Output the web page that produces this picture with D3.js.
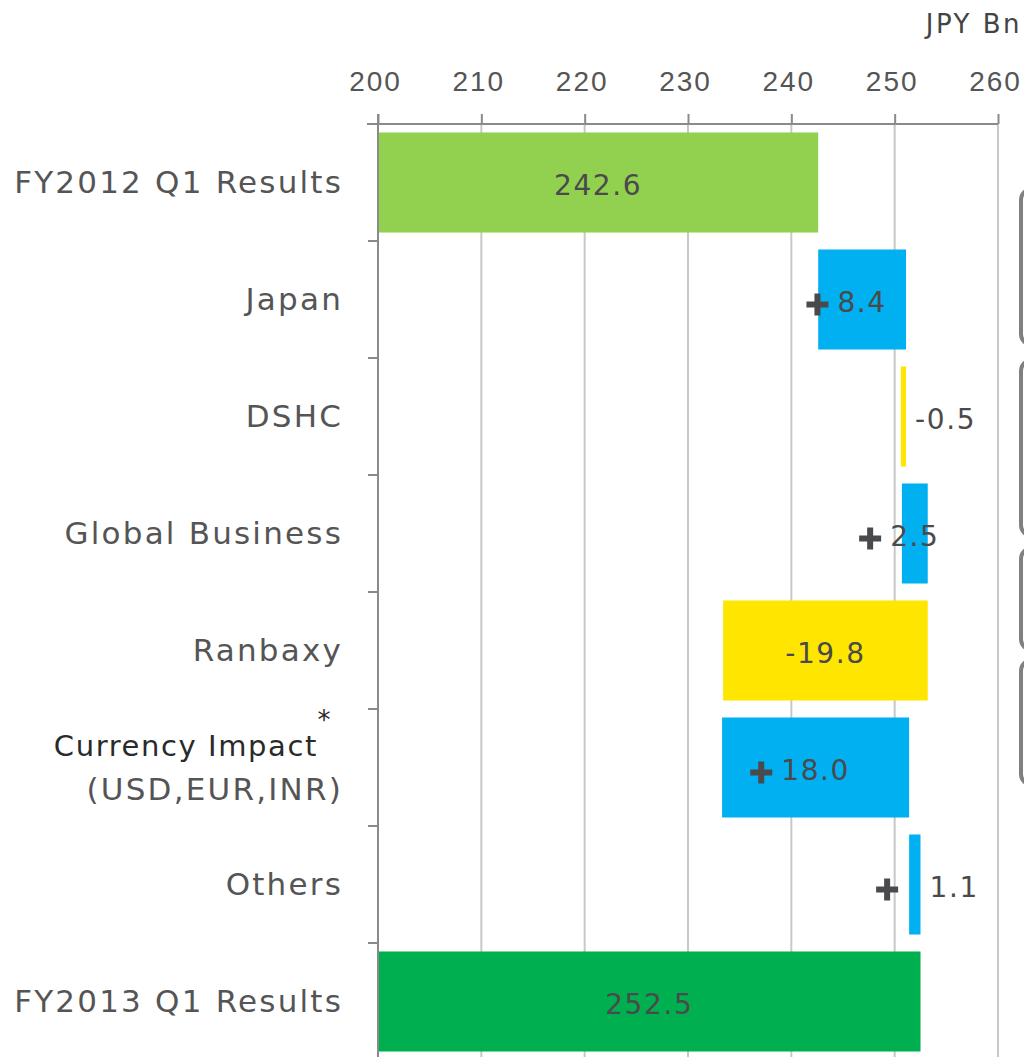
<!DOCTYPE html>
<html>
<head>
<meta charset="utf-8">
<script src="https://cdn.jsdelivr.net/npm/d3@7"></script>
<style>
body { margin: 0; background: #fff; }
svg { display: block; font-family: "DejaVu Sans", sans-serif; }
</style>
</head>
<body>
<script>
// data
var categories = ["FY2012 Q1 Results", "Japan", "DSHC", "Global Business", "Ranbaxy", "Currency Impact", "Others", "FY2013 Q1 Results"];
var barStart = [200, 242.6, 251.1, 250.7, 253.2, 233.3, 251.4, 200];
var barEnd = [242.6, 251.1, 250.6, 253.2, 233.4, 251.4, 252.5, 252.5];
var valueLabels = ["242.6", "8.4", "-0.5", "2.5", "-19.8", "18.0", "1.1", "252.5"];
var barKind = ["start", "up", "down", "up", "down", "up", "up", "end"];
var xTicks = [200, 210, 220, 230, 240, 250, 260];

var color = {start: "#92d050", up: "#00b0f0", down: "#ffe600", end: "#00b050"};

var W = 1024, H = 1057;
var margin = {top: 124, left: 378, right: 26, bottom: -3};

var svg = d3.select("body").append("svg")
	.attr("width", W)
	.attr("height", H);

var x = d3.scaleLinear()
	.domain([200, 260])
	.range([margin.left, W - margin.right]);

var y = d3.scaleBand()
	.domain(categories)
	.range([margin.top, H - margin.bottom])
	.paddingInner(0.145)
	.paddingOuter(0.0725);

// cropped boxes on right edge
[[189, 345], [360, 536], [548, 650], [660, 785]].forEach(function(b) {
	svg.append("rect")
		.attr("x", 1021).attr("y", b[0])
		.attr("width", 60).attr("height", b[1] - b[0])
		.attr("rx", 11)
		.attr("fill", "#fff")
		.attr("stroke", "#808080")
		.attr("stroke-width", 4);
});

// gridlines
svg.append("g").selectAll("line")
	.data(xTicks.slice(1))
	.enter().append("line")
	.attr("x1", function(d) { return x(d); })
	.attr("x2", function(d) { return x(d); })
	.attr("y1", margin.top)
	.attr("y2", H)
	.attr("stroke", "#c8c8c8")
	.attr("stroke-width", 2);

// bars
var rows = categories.map(function(c, i) {
	return {cat: c, s: barStart[i], e: barEnd[i], label: valueLabels[i], kind: barKind[i]};
});

svg.append("g").selectAll("rect")
	.data(rows)
	.enter().append("rect")
	.attr("x", function(d) { return x(Math.min(d.s, d.e)); })
	.attr("y", function(d) { return y(d.cat); })
	.attr("width", function(d) { return Math.abs(x(d.e) - x(d.s)); })
	.attr("height", y.bandwidth())
	.attr("fill", function(d) { return color[d.kind]; });

// top axis
var xAxis = d3.axisTop(x)
	.tickValues(xTicks)
	.tickSize(10)
	.tickSizeOuter(0)
	.tickPadding(23);

var gx = svg.append("g")
	.attr("transform", "translate(0," + margin.top + ")")
	.call(xAxis);
gx.select(".domain").remove();
gx.selectAll(".tick line").attr("stroke", "#8a8a8a").attr("stroke-width", 2);
gx.selectAll(".tick text")
	.attr("fill", "#555")
	.style("font-size", "28px")
	.style("letter-spacing", "2px")
	.attr("dx", "-3");
gx.append("line")
	.attr("x1", margin.left - 11).attr("x2", x(260))
	.attr("y1", 0).attr("y2", 0)
	.attr("stroke", "#8a8a8a").attr("stroke-width", 2);

svg.append("text")
	.attr("x", 1022).attr("y", 33)
	.attr("text-anchor", "end")
	.attr("fill", "#444")
	.style("font-size", "26px")
	.style("letter-spacing", "2.5px")
	.text("JPY Bn");

// left axis
svg.append("line")
	.attr("x1", margin.left).attr("x2", margin.left)
	.attr("y1", margin.top - 10).attr("y2", H)
	.attr("stroke", "#8a8a8a").attr("stroke-width", 2);

svg.append("g").selectAll("line")
	.data(categories.slice(1))
	.enter().append("line")
	.attr("x1", margin.left - 10).attr("x2", margin.left)
	.attr("y1", function(d) { return y(d) - y.step() * y.paddingInner() / 2; })
	.attr("y2", function(d) { return y(d) - y.step() * y.paddingInner() / 2; })
	.attr("stroke", "#8a8a8a").attr("stroke-width", 2);

// category labels
var catG = svg.append("g")
	.attr("fill", "#555")
	.style("font-size", "31px")
	.style("letter-spacing", "2.2px");

rows.forEach(function(d) {
	var cy = y(d.cat) + y.bandwidth() / 2;
	if (d.cat == "Currency Impact") {
		catG.append("text")
			.attr("x", 318).attr("y", cy - 22).attr("dy", ".35em")
			.attr("text-anchor", "end")
			.attr("fill", "#2a2a2a")
			.style("font-size", "29px")
			.style("letter-spacing", "1.6px")
			.text("Currency Impact");
		catG.append("text")
			.attr("x", 325).attr("y", cy - 48).attr("dy", ".35em")
			.attr("text-anchor", "middle")
			.attr("fill", "#2a2a2a")
			.style("font-size", "26px")
			.text("*");
		catG.append("text")
			.attr("x", 343).attr("y", cy + 22).attr("dy", ".35em")
			.attr("text-anchor", "end")
			.text("(USD,EUR,INR)");
	} else {
		catG.append("text")
			.attr("x", 343).attr("y", cy).attr("dy", ".35em")
			.attr("text-anchor", "end")
			.text(d.cat);
	}
});

// value labels
var lab = svg.append("g")
	.attr("fill", "#4a4a4c")
	.style("font-size", "28px")
	.style("letter-spacing", "1.6px");

rows.forEach(function(d) {
	var cy = y(d.cat) + y.bandwidth() / 2 + 3;
	var small = Math.abs(d.e - d.s) < 1.5;
	var t = lab.append("text")
		.attr("y", cy).attr("dy", ".35em")
		.text(d.label);
	if (small) {
		t.attr("x", x(Math.max(d.s, d.e)) + 9).attr("text-anchor", "start");
	} else {
		t.attr("x", (x(d.s) + x(d.e)) / 2).attr("text-anchor", "middle");
	}
	if (d.kind == "up") {
		// plus sign before the label (left of the bar for outside labels)
		var bb = t.node().getBBox();
		var px = small ? x(d.s) - 22 : bb.x - 20;
		var py = cy + 2;
		svg.append("path")
			.attr("d", "M" + (px - 11) + "," + (py - 3) + "h22v6h-22z" +
				"M" + (px - 3) + "," + (py - 11) + "h6v22h-6z")
			.attr("fill", "#4a4a4c");
	}
});
</script>
</body>
</html>
